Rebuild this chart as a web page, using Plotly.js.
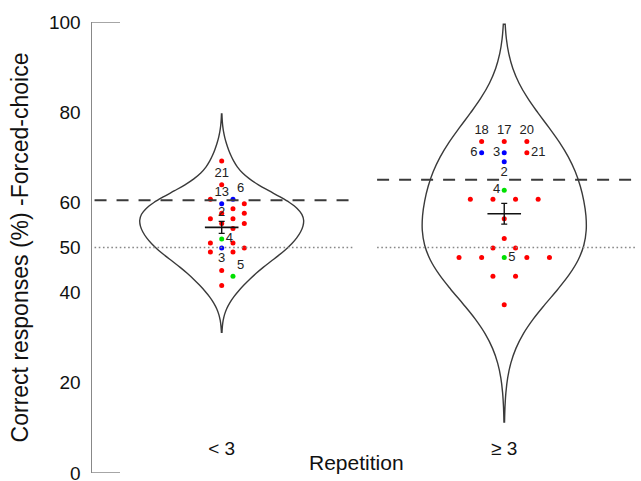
<!DOCTYPE html>
<html>
<head>
<meta charset="utf-8">
<script src="https://cdn.plot.ly/plotly-3.0.1.min.js"></script>
<style>html,body{margin:0;padding:0;background:#fff;}#chart{width:641px;height:481px;}</style>
</head>
<body>
<div id="chart"></div>
<script>
// ---------------- data ----------------
const groupNames = ['< 3', '\u2265 3'];
const yTickValues = [0, 20, 40, 50, 60, 80, 100];
const yRange = [0, 100];

// "< 3" repetitions: values read top-to-bottom, left-to-right
const lowValues = [69.2, 63.9, 60.7, 60.7, 59.7, 59.7, 58.6, 57.6, 57.6, 56.4, 56.4, 55.3, 55.3, 54.2,
                   51.9, 51.0, 51.0, 49.9, 49.9, 49.0, 49.0, 44.9, 43.6, 41.6];
const lowTypes  = ['R','R','R','B','B','R','R','R','R','R','R','R','R','R',
                   'G','R','R','B','R','R','R','R','G','R'];
const lowLabels = ['','21','','6','13','','','','','','','2','','',
                   '4','','','3','','','','','5',''];
const lowLabelPos = ['top center','top center','top center','top right','top center','top center','top center','top center','top center','top center','top center','top center','top center','top center',
                   'middle right','top center','top center','bottom center','top center','top center','top center','top center','top right','top center'];

// ">= 3" repetitions
const highValues = [73.5, 73.5, 73.5, 71.0, 71.0, 71.0, 69.0, 62.7, 60.7, 60.7, 60.7, 60.7,
                    56.4, 52.0, 49.9, 49.9, 47.8, 47.8, 47.8, 47.8, 47.8, 43.6, 43.6, 37.3];
const highTypes  = ['R','R','R','B','B','R','B','G','R','R','R','R',
                    'R','R','R','R','R','R','G','R','R','R','R','R'];
const highLabels = ['18','17','20','6','3','21','2','4','','','','',
                    '','','','','','','5','','','','',''];
const highLabelPos = ['top center','top center','top center','middle left','middle left','middle right','bottom center','middle left','top center','top center','top center','top center',
                    'top center','top center','top center','top center','top center','top center','middle right','top center','top center','top center','top center','top center'];

// per-group reference levels
const thresholdLevels = [60.5, 65.0];
const chanceLevels = [50, 50];
const bandwidths = [4, 10];

// ---------------- styles ----------------
const typeColors = {R: '#ff0000', B: '#0000ff', G: '#00e000'};
const FONT = 'Arial, "Liberation Sans", sans-serif';
const swarmStep = 0.04;      // horizontal lattice step (x units)
const rowNear = 1.6;         // value distance counted as neighbouring row
const violinWidth = 0.58;
const spanFactor = 2.6;

function swarm(values, center) {
  const rows = [];
  values.forEach((v, i) => {
    let r = rows.find(q => q.v === v);
    if (!r) { r = {v: v, ids: []}; rows.push(r); }
    r.ids.push(i);
  });
  rows.sort((a, b) => b.v - a.v);
  const placed = [];
  const cols = new Array(values.length).fill(0);
  const shifts = [0, 1, -1, 2, -2, 3, -3, 4, -4];
  rows.forEach(r => {
    const n = r.ids.length;
    const base = r.ids.map((_, k) => 2 * k - (n - 1));
    for (const s of shifts) {
      const c = base.map(b => b + s);
      const clash = placed.some(p => Math.abs(p.v - r.v) < rowNear && c.includes(p.col));
      if (!clash) {
        r.ids.forEach((id, k) => { cols[id] = c[k]; placed.push({v: r.v, col: c[k]}); });
        break;
      }
    }
  });
  return cols.map(c => center + c * swarmStep);
}

function mean(a) { return a.reduce((s, v) => s + v, 0) / a.length; }
function sem(a) {
  const m = mean(a);
  const sd = Math.sqrt(a.reduce((s, v) => s + (v - m) * (v - m), 0) / (a.length - 1));
  return sd / Math.sqrt(a.length);
}

const groupsData = [
  {values: lowValues, types: lowTypes, labels: lowLabels, pos: lowLabelPos},
  {values: highValues, types: highTypes, labels: highLabels, pos: highLabelPos}
];

const traces = [];
groupsData.forEach((g, i) => {
  const h = bandwidths[i];
  traces.push({
    type: 'violin', x0: i, y: g.values, name: groupNames[i],
    bandwidth: h, spanmode: 'manual',
    span: [Math.min(...g.values) - spanFactor * h, Math.max(...g.values) + spanFactor * h],
    scalemode: 'width', width: violinWidth, side: 'both',
    points: false, box: {visible: false}, meanline: {visible: false},
    line: {color: '#3a3a3a', width: 1.4}, fillcolor: 'rgba(0,0,0,0)',
    hoverinfo: 'skip', showlegend: false
  });
});
groupsData.forEach((g, i) => {
  traces.push({
    type: 'scatter', mode: 'markers+text',
    x: swarm(g.values, i), y: g.values,
    marker: {size: 5, color: g.types.map(t => typeColors[t])},
    text: g.labels, textposition: g.pos,
    textfont: {family: FONT, size: 13, color: '#222'},
    hoverinfo: 'skip', showlegend: false, cliponaxis: false
  });
});
traces.push({
  type: 'scatter', mode: 'markers',
  x: groupsData.map((g, i) => i),
  y: groupsData.map(g => mean(g.values)),
  marker: {symbol: 'line-ew', size: 24, line: {width: 1.6, color: '#111'}},
  error_y: {type: 'data', array: groupsData.map(g => sem(g.values)), visible: true,
            thickness: 1.4, width: 3, color: '#111'},
  hoverinfo: 'skip', showlegend: false
});

const shapes = [];
groupsData.forEach((g, i) => {
  shapes.push({type: 'line', xref: 'x', yref: 'y', x0: i - 0.45, x1: i + 0.47,
               y0: thresholdLevels[i], y1: thresholdLevels[i],
               line: {color: '#3a3a3a', width: 2, dash: '12px,10px'}});
  shapes.push({type: 'line', xref: 'x', yref: 'y', x0: i - 0.45, x1: i + 0.47,
               y0: chanceLevels[i], y1: chanceLevels[i],
               line: {color: '#888', width: 1.6, dash: '1.6px,2.6px'}});
});
[yRange[0], yRange[1]].forEach(v => {
  shapes.push({type: 'line', xref: 'paper', yref: 'y', x0: 0, x1: 0.051, y0: v, y1: v,
               line: {color: '#888', width: 1.5}});
});

const layout = {
  width: 641, height: 481, autosize: false,
  margin: {l: 92, r: 0, t: 22, b: 8},
  paper_bgcolor: '#fff', plot_bgcolor: '#fff',
  violinmode: 'overlay',
  showlegend: false,
  xaxis: {
    range: [-0.459, 1.484], showgrid: false, zeroline: false, showline: false,
    anchor: 'free', position: 0.085,
    tickmode: 'array', tickvals: [0, 1], ticktext: groupNames, ticks: '',
    tickfont: {family: FONT, size: 19, color: '#111'}
  },
  yaxis: {
    range: yRange, showgrid: false, zeroline: false,
    showline: true, linecolor: '#888', linewidth: 1.5,
    tickmode: 'array', tickvals: yTickValues, ticks: '',
    ticklabelstandoff: 6, ticklabeloverflow: 'allow',
    tickfont: {family: FONT, size: 19, color: '#111'},
    title: {text: 'Correct responses (%) -Forced-choice', standoff: 14,
            font: {family: FONT, size: 23, color: '#111'}}
  },
  annotations: [{
    text: 'Repetition', xref: 'paper', yref: 'paper', x: 0.481, y: 0.024,
    xanchor: 'center', yanchor: 'middle', showarrow: false,
    font: {family: FONT, size: 21, color: '#111'}
  }],
  shapes: shapes
};

Plotly.newPlot('chart', traces, layout, {displayModeBar: false, staticPlot: true});
</script>
</body>
</html>
